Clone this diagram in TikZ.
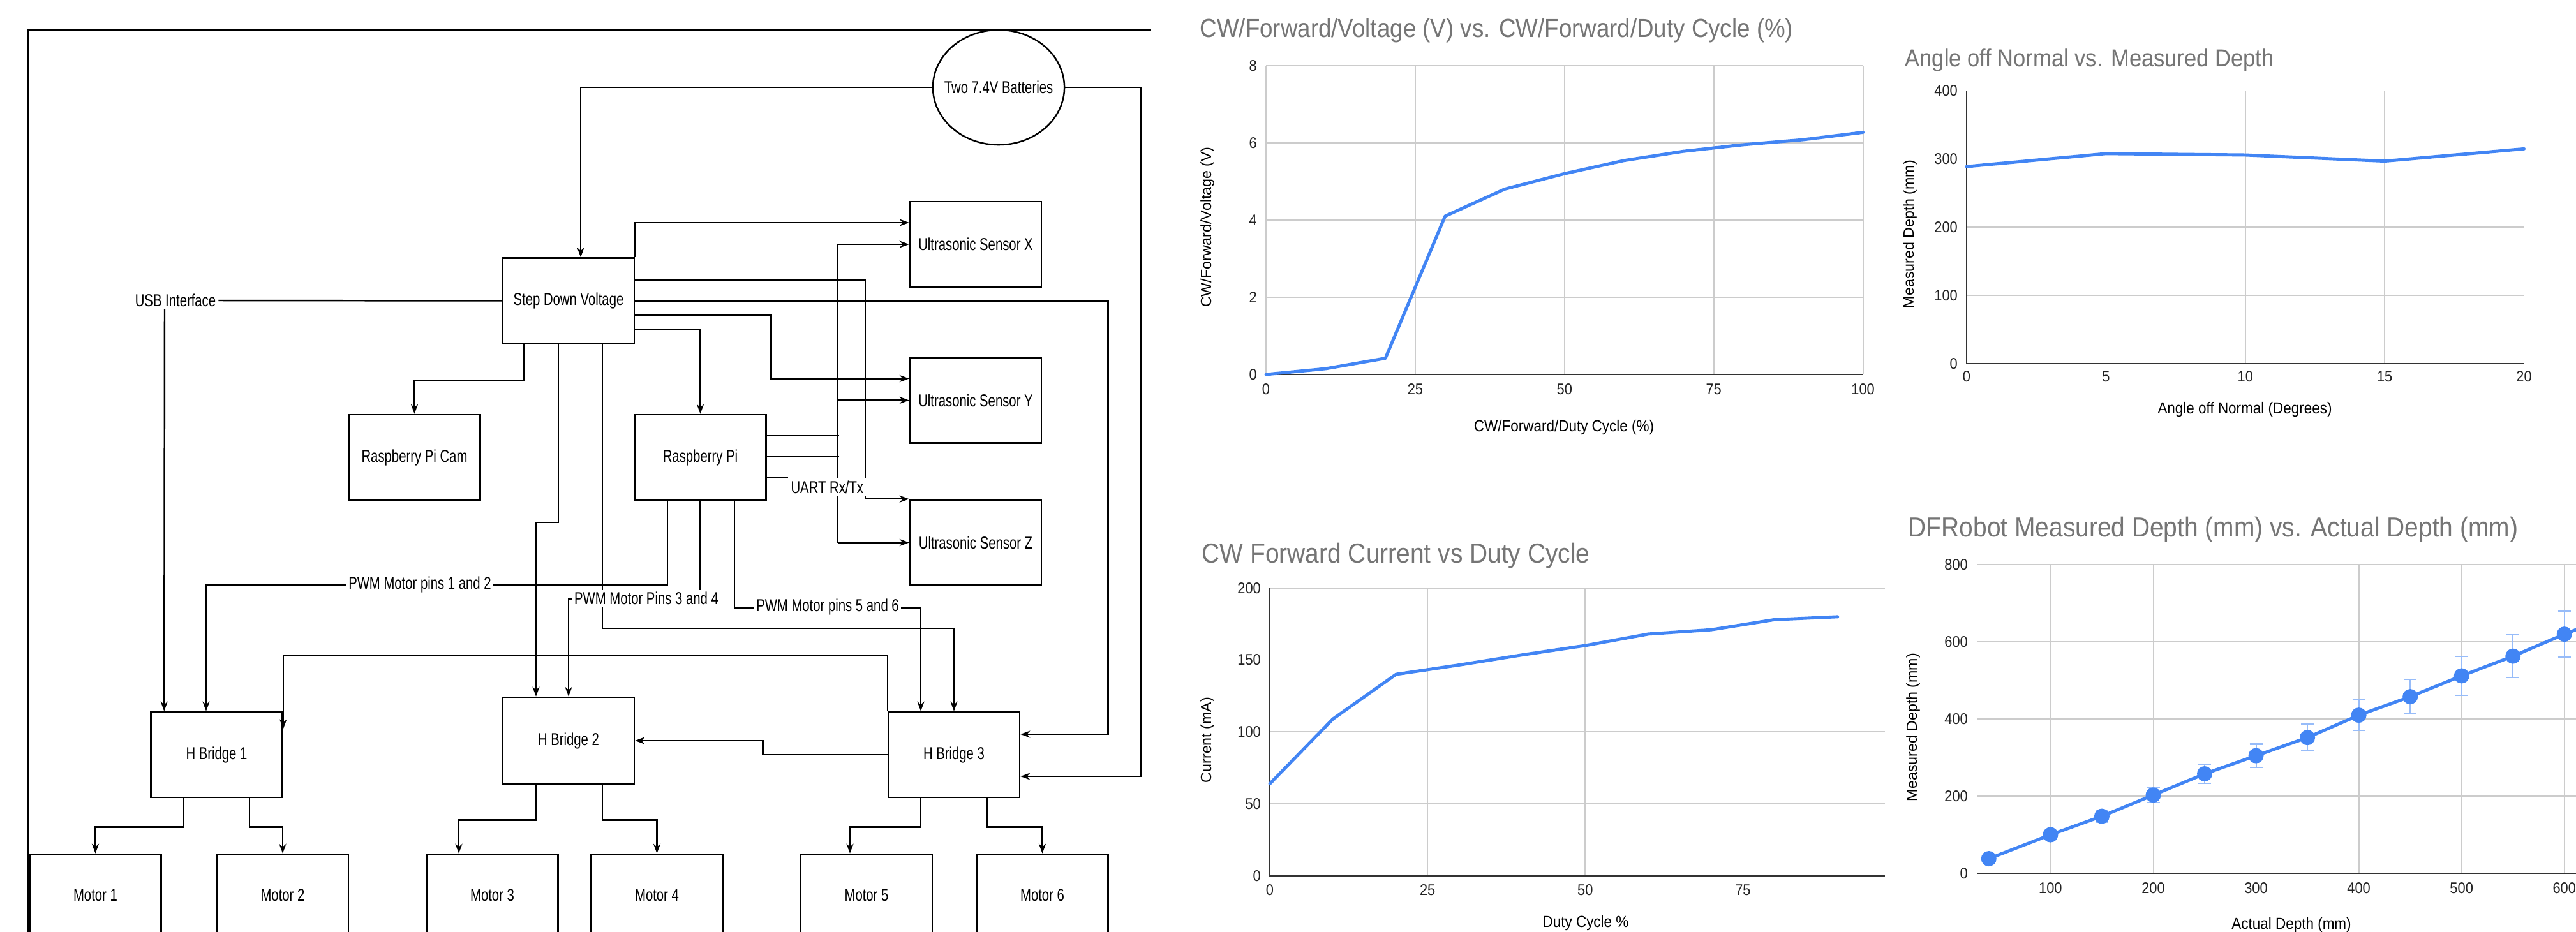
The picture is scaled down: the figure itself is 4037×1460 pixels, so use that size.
\documentclass[tikz,border=0pt]{standalone}
\usepackage{fontspec}
\setmainfont{Liberation Sans}
\newfontfamily\diafamily[FakeStretch=0.75]{Liberation Sans}
\newfontfamily\chartfamily[FakeStretch=0.9]{Liberation Sans}
\usetikzlibrary{arrows.meta,calc,shapes.geometric}
\definecolor{gblue}{HTML}{4285F4}
\definecolor{gridgray}{HTML}{CCCCCC}
\definecolor{basegray}{HTML}{333333}
\definecolor{titlegray}{HTML}{757575}
\definecolor{tickgray}{HTML}{222222}
\newcommand{\diafont}{\diafamily\fontsize{7.7}{9}\selectfont}
\newcommand{\tickfont}{\chartfamily\fontsize{6.9}{8}\selectfont}
\newcommand{\axfont}{\chartfamily\fontsize{7.1}{8.5}\selectfont}
\newcommand{\yaxfont}{\fontsize{6.6}{8}\selectfont}

\begin{document}
\begin{tikzpicture}[x=0.01cm,y=-0.01cm,
		box/.style={draw,line width=0.7pt,minimum width=2.06cm,minimum height=1.34cm,inner sep=0pt,font=\diafont},
		wire/.style={line width=0.7pt},
		arr/.style={wire,-{Stealth[length=0.15cm,width=0.11cm]}},
		lbl/.style={fill=white,inner sep=1pt,font=\diafont},
		grid/.style={draw=gridgray,line width=0.5pt},
		base/.style={draw=basegray,line width=0.7pt},
		tick/.style={font=\tickfont,text=tickgray,inner sep=1pt},
		ctitle/.style={text=titlegray,anchor=west,inner sep=0pt},
		atitle/.style={font=\axfont,inner sep=0pt},
		ytitle/.style={font=\yaxfont,inner sep=0pt,rotate=90},
		dline/.style={draw=gblue,line width=1.4pt,line join=round,line cap=round},
		ebar/.style={draw=gblue!55,line width=0.6pt}]
			\useasboundingbox (0,0) rectangle (4037,1460);
			\fill[white] (0,0) rectangle (4037,1460);
			\clip (0,0) rectangle (4037,1460);

			\draw[wire] (44,1470) -- (44,47) -- (1804,47);

			\node[draw,ellipse,line width=0.7pt,minimum width=2.06cm,minimum height=1.8cm,inner sep=0pt,font=\diafont] (bat) at (1565,137) {\makebox[0pt]{Two 7.4V Batteries}};
			\node[box] (sdv) at (891,471.5) {Step Down Voltage};
			\node[box] (usx) at (1529,383) {Ultrasonic Sensor X};
			\node[box] (usy) at (1529,627.5) {Ultrasonic Sensor Y};
			\node[box] (usz) at (1529,850.5) {Ultrasonic Sensor Z};
			\node[box] (cam) at (649.5,717) {Raspberry Pi Cam};
			\node[box] (rpi) at (1097.5,717) {Raspberry Pi};
			\node[box] (hb1) at (339.5,1183) {H Bridge 1};
			\node[box,minimum height=1.36cm] (hb2) at (891,1161) {H Bridge 2};
			\node[box] (hb3) at (1495,1183) {H Bridge 3};
			\foreach \i/\x in {1/149.5,2/443,3/771.5,4/1029.5,5/1358,6/1633.5}
				\node[box,minimum height=1.28cm] (m\i) at (\x,1403) {Motor \i};
			\node[font=\diafont,inner sep=1pt] (usb) at (275,471) {USB Interface};

			\draw[arr] (bat.west) -| ($(sdv.north)+(19,0)$);
			\draw[arr] (bat.east) -| ($(hb3.east)+(188,34)$) -- ($(hb3.east)+(0,34)$);
			\draw[arr] (sdv.north east) |- ($(usx.west)+(0,-34)$);
			\draw[arr] ($(sdv.east)+(0,-32)$) -| ($(usz.north west)+(-69,0)$) -- (usz.north west);
			\draw[arr] (sdv.east) -| ($(hb3.east)+(137,-32)$) -- ($(hb3.east)+(0,-32)$);
			\draw[arr] ($(sdv.east)+(0,22)$) -| ($(usy.west)+(-216,-34)$) -- ($(usy.west)+(0,-34)$);
			\draw[arr] ($(sdv.east)+(0,45)$) -| (rpi.north);
			\draw[arr] ($(sdv.south west)+(34,0)$) -- ++(0,56) -| (cam.north);
			\draw[arr] ($(sdv.south)+(-16,0)$) -- ++(0,279) -| ($(hb2.north)+(-51,0)$);
			\draw[arr] ($(sdv.south)+(53,0)$) -- ++(0,445) -| (hb3.north);

			\draw[wire] (usb.east) -- (sdv.west);
			\draw[arr] ($(usb.south)+(-17,0)$) -- ($(hb1.north west)+(22,0)$);

			\coordinate (bus) at ($(usx.west)+(-112,0)$);
			\draw[arr] (bus) -- (usx.west);
			\draw[wire] (bus) -- (bus |- usz.west);
			\draw[arr] (bus |- usy.west) -- (usy.west);
			\draw[arr] (bus |- usz.west) -- (usz.west);
			\draw[wire] ($(rpi.east)+(0,-34)$) -- ++(113,0);
			\draw[wire] ($(rpi.east)+(0,-1)$) -- ++(113,0);
			\draw[wire] ($(rpi.east)+(0,32)$) -- ++(33,0) node[anchor=north west,fill=white,inner sep=1pt,font=\diafont] (uart) {UART Rx/Tx};

			\draw[arr] ($(rpi.south)+(-51.5,0)$) -- ++(0,132) -| ($(hb1.north)+(-16.5,0)$);
			\node[lbl] (pwma) at (658,916) {PWM Motor pins 1 and 2};
			\draw[arr] (rpi.south) -- ++(0,154) -| (hb2.north);
			\node[lbl] (pwmb) at (1013,938) {PWM Motor Pins 3 and 4};
			\draw[arr] ($(rpi.south)+(53.5,0)$) -- ++(0,167) -| ($(hb3.north)+(-52,0)$);
			\node[lbl] (pwmc) at (1297,951) {PWM Motor pins 5 and 6};

			\draw[arr] (hb3.north west) |- ($(hb1.north east)+(0,-88)$) -- ($(hb1.north east)+(0,28)$);
			\draw[arr] (hb3.west) -| ($(hb2.east)+(200,0)$) -- (hb2.east);

			\draw[arr] ($(hb1.south)+(-51.5,0)$) -- ++(0,45) -| (m1.north);
			\draw[arr] ($(hb1.south)+(51.5,0)$) -- ++(0,45) -| (m2.north);
			\draw[arr] ($(hb2.south)+(-51,0)$) -- ++(0,55) -| ($(m3.north)+(-52.5,0)$);
			\draw[arr] ($(hb2.south)+(53,0)$) -- ++(0,55) -| (m4.north);
			\draw[arr] ($(hb3.south)+(-52,0)$) -- ++(0,45) -| ($(m5.north)+(-26,0)$);
			\draw[arr] ($(hb3.south)+(52,0)$) -- ++(0,45) -| (m6.north);

			% voltage vs duty cycle
			\node[ctitle,font=\chartfamily\fontsize{11.6}{13}\selectfont] (tvolt) at (1880,48) {CW/Forward/Voltage (V) vs. CW/Forward/Duty Cycle (\%)};
			\node[atitle] (xvolt) at (2451,670) {CW/Forward/Duty Cycle (\%)};
			\node[ytitle] (yvolt) at (1892,356) {CW/Forward/Voltage (V)};
			\begin{scope}[shift={(1984,587)},x=0.0935cm,y=0.605cm]
				\foreach \x in {0,25,...,100} \draw[grid] (\x,0) -- (\x,8);
				\foreach \y in {2,4,...,8} \draw[grid] (0,\y) -- (100,\y);
				\draw[base] (0,0) -- (100,0);
				\foreach \x in {0,25,...,100} \node[tick] (vx\x) at ([yshift=-0.23cm]\x,0) {\x};
				\foreach \y in {0,2,...,8} \node[tick,anchor=east] (vy\y) at ([xshift=-0.1cm]0,\y) {\y};
				\draw[dline] plot coordinates {(0,0) (10,0.15) (20,0.42) (30,4.1) (40,4.8) (50,5.2) (60,5.54) (70,5.78) (80,5.95) (90,6.08) (100,6.27)};
			\end{scope}

			% angle vs depth
			\node[ctitle,font=\chartfamily\fontsize{10.9}{12}\selectfont] (tangle) at (2985,95) {Angle off Normal vs. Measured Depth};
			\node[atitle] (xangle) at (3518,642) {Angle off Normal (Degrees)};
			\node[ytitle] (yangle) at (2993,367) {Measured Depth (mm)};
			\begin{scope}[shift={(3082,570)},x=0.4365cm,y=0.010675cm]
				\foreach \x in {5,10,...,20} \draw[grid] (\x,0) -- (\x,400);
				\foreach \y in {100,200,...,400} \draw[grid] (0,\y) -- (20,\y);
				\draw[base] (0,400) -- (0,0) -- (20,0);
				\foreach \x in {0,5,...,20} \node[tick] (ax\x) at ([yshift=-0.2cm]\x,0) {\x};
				\foreach \y in {0,100,...,400} \node[tick,anchor=east] (ay\y) at ([xshift=-0.1cm]0,\y) {\y};
				\draw[dline] plot coordinates {(0,289) (5,308) (10,306) (15,297) (20,315)};
			\end{scope}

			% current vs duty cycle
			\node[ctitle,font=\chartfamily\fontsize{12.3}{14}\selectfont] (tcurr) at (1883,871) {CW Forward Current vs Duty Cycle};
			\node[atitle] (xcurr) at (2485,1447) {Duty Cycle \%};
			\node[ytitle] (ycurr) at (1892,1160) {Current (mA)};
			\begin{scope}[shift={(1990,1373)},x=0.0988cm,y=0.02255cm]
				\foreach \x in {25,50,75} \draw[grid] (\x,0) -- (\x,200);
				\foreach \y in {50,100,...,200} \draw[grid] (0,\y) -- (97.5,\y);
				\draw[base] (0,200) -- (0,0) -- (97.5,0);
				\foreach \x in {0,25,...,75} \node[tick] (cx\x) at ([yshift=-0.22cm]\x,0) {\x};
				\foreach \y in {0,50,...,200} \node[tick,anchor=east] (cy\y) at ([xshift=-0.1cm]0,\y) {\y};
				\draw[dline] plot coordinates {(0,64) (10,109) (20,140) (30,146.5) (40,153.5) (50,160) (60,168) (70,171) (80,178) (90,180)};
			\end{scope}

			% measured vs actual depth
			\node[ctitle,font=\chartfamily\fontsize{12.3}{14}\selectfont] (tdepth) at (2990,830) {DFRobot Measured Depth (mm) vs. Actual Depth (mm)};
			\node[atitle] (xdepth) at (3591,1450) {Actual Depth (mm)};
			\node[ytitle] (ydepth) at (2998,1140) {Measured Depth (mm)};
			\begin{scope}[shift={(3052.3,1369)},x=0.0161cm,y=0.00605cm]
				\foreach \x in {100,200,...,600} \draw[grid] (\x,0) -- (\x,800);
				\foreach \y in {200,400,...,800} \draw[grid] (28.4,\y) -- (640,\y);
				\draw[base] (28.4,0) -- (640,0);
				\foreach \x in {100,200,...,600} \node[tick] (dx\x) at ([yshift=-0.23cm]\x,0) {\x};
				\foreach \y in {0,200,...,800} \node[tick,anchor=east] (dy\y) at ([xshift=-0.1cm]28.4,\y) {\y};
				\foreach \a/\m in {40/38,100/100,150/148,200/203,250/258,300/305,350/352,400/410,450/458,500/512,550/563,600/620,650/672} {
					\draw[ebar] (\a,{\m-0.1*\a}) -- (\a,{\m+0.1*\a});
					\draw[ebar] ([xshift=-0.1cm]\a,{\m-0.1*\a}) -- ([xshift=0.1cm]\a,{\m-0.1*\a});
					\draw[ebar] ([xshift=-0.1cm]\a,{\m+0.1*\a}) -- ([xshift=0.1cm]\a,{\m+0.1*\a});
				}
				\draw[dline] plot coordinates {(40,38) (100,100) (150,148) (200,203) (250,258) (300,305) (350,352) (400,410) (450,458) (500,512) (550,563) (600,620) (650,672)};
				\foreach \a/\m in {40/38,100/100,150/148,200/203,250/258,300/305,350/352,400/410,450/458,500/512,550/563,600/620,650/672}
					\fill[gblue] (\a,\m) circle (0.12cm);
			\end{scope}
		\end{tikzpicture}
\end{document}
